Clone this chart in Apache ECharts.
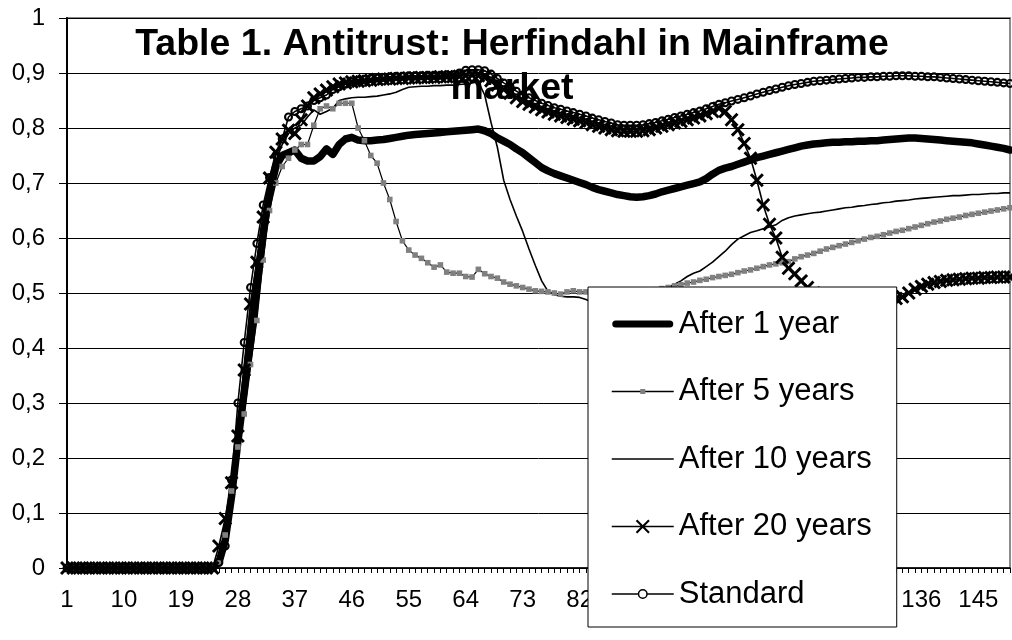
<!DOCTYPE html>
<html>
<head>
<meta charset="utf-8">
<title>Herfindahl in Mainframe market</title>
<script src="https://cdn.jsdelivr.net/npm/echarts@6/dist/echarts.min.js"></script>
<style>
  html, body { margin: 0; padding: 0; background: #ffffff; }
  #chart { width: 1012px; height: 640px; }
</style>
</head>
<body>
<div id="chart"></div>
<script>
// Periods 1..150 on the category axis
const periods = Array.from({ length: 150 }, (_, i) => String(i + 1));

// Herfindahl index per period, one array per scenario
const afterOneYear = [
  0,0,0,0,0,0,0,0,0,0,
  0,0,0,0,0,0,0,0,0,0,
  0,0,0,0,0.01,0.05,0.13,0.23,0.32,0.41,
  0.51,0.61,0.68,0.73,0.75,0.755,0.76,0.745,0.74,0.74,
  0.748,0.762,0.752,0.77,0.78,0.783,0.778,0.777,0.777,0.778,
  0.779,0.781,0.783,0.785,0.787,0.788,0.789,0.79,0.791,0.792,
  0.793,0.794,0.795,0.796,0.797,0.798,0.795,0.79,0.782,0.776,
  0.77,0.762,0.755,0.746,0.737,0.728,0.722,0.717,0.713,0.709,
  0.705,0.701,0.697,0.692,0.688,0.685,0.682,0.679,0.677,0.675,
  0.674,0.675,0.677,0.68,0.684,0.687,0.69,0.693,0.696,0.699,
  0.702,0.708,0.716,0.723,0.727,0.73,0.734,0.738,0.742,0.746,
  0.749,0.752,0.755,0.758,0.761,0.764,0.767,0.769,0.771,0.772,
  0.773,0.774,0.774,0.775,0.775,0.776,0.776,0.777,0.777,0.778,
  0.779,0.78,0.781,0.782,0.782,0.781,0.78,0.779,0.778,0.777,
  0.776,0.775,0.774,0.773,0.771,0.769,0.767,0.765,0.763,0.76
];

const afterFiveYears = [
  0,0,0,0,0,0,0,0,0,0,
  0,0,0,0,0,0,0,0,0,0,
  0,0,0,0,0.01,0.06,0.14,0.22,0.28,0.37,
  0.45,0.56,0.65,0.7,0.73,0.745,0.76,0.77,0.77,0.805,
  0.835,0.84,0.835,0.845,0.845,0.845,0.8,0.777,0.75,0.736,
  0.7,0.67,0.63,0.595,0.578,0.569,0.563,0.555,0.547,0.551,
  0.538,0.536,0.536,0.53,0.529,0.543,0.535,0.53,0.527,0.52,
  0.516,0.513,0.51,0.507,0.504,0.503,0.502,0.5,0.498,0.502,
  0.504,0.502,0.502,0.5,0.499,0.499,0.5,0.5,0.501,0.502,
  0.503,0.504,0.505,0.506,0.508,0.51,0.513,0.515,0.518,0.52,
  0.523,0.525,0.528,0.53,0.532,0.534,0.537,0.54,0.542,0.545,
  0.548,0.551,0.553,0.555,0.557,0.562,0.566,0.569,0.572,0.576,
  0.58,0.583,0.586,0.589,0.592,0.595,0.598,0.601,0.603,0.606,
  0.609,0.612,0.614,0.617,0.62,0.623,0.626,0.629,0.631,0.634,
  0.636,0.638,0.641,0.643,0.645,0.647,0.649,0.651,0.653,0.655
];

const afterTenYears = [
  0,0,0,0,0,0,0,0,0,0,
  0,0,0,0,0,0,0,0,0,0,
  0,0,0,0,0.02,0.07,0.14,0.25,0.37,0.48,
  0.56,0.63,0.69,0.74,0.77,0.79,0.8,0.805,0.82,0.833,
  0.825,0.83,0.836,0.85,0.853,0.855,0.856,0.856,0.857,0.858,
  0.86,0.862,0.865,0.87,0.874,0.875,0.876,0.876,0.877,0.877,
  0.878,0.878,0.879,0.88,0.882,0.884,0.86,0.81,0.765,0.705,
  0.67,0.64,0.612,0.58,0.55,0.522,0.503,0.497,0.494,0.493,
  0.493,0.492,0.488,0.483,0.482,0.484,0.486,0.488,0.49,0.492,
  0.495,0.498,0.501,0.504,0.507,0.51,0.516,0.522,0.53,0.536,
  0.54,0.548,0.556,0.566,0.576,0.588,0.598,0.604,0.61,0.613,
  0.617,0.62,0.624,0.632,0.637,0.64,0.642,0.644,0.646,0.647,
  0.649,0.651,0.653,0.655,0.656,0.658,0.659,0.661,0.662,0.664,
  0.665,0.667,0.668,0.669,0.671,0.672,0.673,0.674,0.675,0.676,
  0.677,0.677,0.678,0.679,0.679,0.68,0.681,0.681,0.682,0.682
];

const afterTwentyYears = [
  0,0,0,0,0,0,0,0,0,0,
  0,0,0,0,0,0,0,0,0,0,
  0,0,0,0,0.04,0.09,0.155,0.24,0.36,0.48,
  0.556,0.638,0.709,0.756,0.78,0.796,0.79,0.815,0.84,0.855,
  0.862,0.869,0.875,0.88,0.882,0.884,0.885,0.886,0.887,0.888,
  0.889,0.889,0.89,0.89,0.891,0.891,0.892,0.892,0.892,0.893,
  0.893,0.893,0.894,0.895,0.896,0.895,0.892,0.886,0.878,0.87,
  0.863,0.855,0.848,0.843,0.838,0.833,0.829,0.825,0.822,0.819,
  0.816,0.813,0.81,0.806,0.803,0.8,0.797,0.795,0.794,0.794,
  0.794,0.795,0.797,0.8,0.803,0.806,0.809,0.812,0.815,0.818,
  0.822,0.826,0.83,0.836,0.83,0.815,0.797,0.772,0.745,0.705,
  0.66,0.625,0.6,0.565,0.545,0.535,0.522,0.51,0.5,0.493,
  0.488,0.485,0.484,0.483,0.483,0.483,0.484,0.484,0.485,0.486,
  0.487,0.49,0.493,0.5,0.507,0.512,0.516,0.519,0.521,0.523,
  0.524,0.525,0.526,0.527,0.527,0.528,0.528,0.529,0.529,0.529
];

const standard = [
  0,0,0,0,0,0,0,0,0,0,
  0,0,0,0,0,0,0,0,0,0,
  0,0,0,0,0.01,0.04,0.16,0.3,0.41,0.51,
  0.59,0.66,0.71,0.75,0.78,0.82,0.83,0.835,0.84,0.85,
  0.855,0.86,0.87,0.875,0.88,0.884,0.886,0.888,0.89,0.891,
  0.892,0.893,0.894,0.894,0.895,0.895,0.895,0.896,0.896,0.896,
  0.897,0.897,0.9,0.905,0.906,0.906,0.904,0.898,0.89,0.882,
  0.875,0.867,0.86,0.855,0.85,0.845,0.841,0.837,0.834,0.831,
  0.828,0.825,0.822,0.818,0.815,0.812,0.809,0.806,0.805,0.805,
  0.805,0.806,0.808,0.81,0.813,0.816,0.819,0.822,0.825,0.828,
  0.831,0.835,0.839,0.843,0.846,0.849,0.852,0.855,0.858,0.862,
  0.865,0.868,0.871,0.874,0.877,0.879,0.881,0.883,0.885,0.886,
  0.887,0.888,0.889,0.89,0.891,0.892,0.892,0.893,0.893,0.894,
  0.894,0.895,0.895,0.895,0.894,0.894,0.893,0.893,0.892,0.891,
  0.89,0.889,0.888,0.887,0.886,0.885,0.884,0.883,0.882,0.881
];

const seriesNames = ['After 1 year', 'After 5 years', 'After 10 years', 'After 20 years', 'Standard'];
const titleText = 'Table 1. Antitrust: Herfindahl in Mainframe\nmarket';

const FONT = '"Liberation Sans", Arial, Helvetica, sans-serif';

// Point markers. The leading moveTo pair pads the square so it stays small
// inside the symbol box (the legend sizes symbols from its item height).
const SQUARE = 'path://M0,0M20,20M6.5,6.5h7v7h-7z';
const CROSS = 'path://M0,1.5L1.5,0L5,3.5L8.5,0L10,1.5L6.5,5L10,8.5L8.5,10L5,6.5L1.5,10L0,8.5L3.5,5Z';
// open ring: outer circle clockwise, inner circle counter-clockwise
const RING = 'path://M0,10A10,10 0 1 1 20,10A10,10 0 1 1 0,10Z' +
  'M4.6,10A5.4,5.4 0 1 0 15.4,10A5.4,5.4 0 1 0 4.6,10Z';

// Legend keys drawn in a 62 x 18 box
const KEY_THICK = 'path://M0,0M62,18M4,5.5h54a3.5,3.5 0 0 1 0,7h-54a3.5,3.5 0 0 1 0,-7z';
const KEY_THIN = 'path://M0,0M62,18M0,8.25h62v1.5h-62z';
const KEY_CROSS = 'path://M0,0M62,18M0,8.25h62v1.5h-62z' +
  'M24,3.5L25.5,2L31,7.5L36.5,2L38,3.5L32.5,9L38,14.5L36.5,16L31,10.5L25.5,16L24,14.5L29.5,9Z';
const KEY_RING = 'path://M0,0M62,18M0,8.25h26.2v1.5h-26.2zM35.8,8.25h26.2v1.5h-26.2z' +
  'M26,9A5,5 0 1 1 36,9A5,5 0 1 1 26,9Z' +
  'M27.5,9A3.5,3.5 0 1 0 34.5,9A3.5,3.5 0 1 0 27.5,9Z';

const chart = echarts.init(document.getElementById('chart'), null, { renderer: 'canvas' });

function yLabel(v) {
  if (v === 0) return '0';
  if (Math.abs(v - 1) < 1e-9) return '1';
  return v.toFixed(1).replace('.', ',');
}

chart.setOption({
  animation: false,
  backgroundColor: '#ffffff',
  textStyle: { fontFamily: FONT },
  title: {
    text: titleText,
    left: 507,
    top: 18,
    textAlign: 'center',
    textStyle: {
      fontFamily: FONT,
      fontSize: 37.5,
      fontWeight: 'bold',
      color: '#000000',
      lineHeight: 44
    }
  },
  legend: {
    orient: 'vertical',
    left: 588,
    top: 287,
    padding: [20, 25, 16, 23],
    itemGap: 33.5,
    itemWidth: 62,
    itemHeight: 18,
    backgroundColor: '#ffffff',
    borderColor: '#000000',
    borderWidth: 1,
    borderRadius: 0,
    data: [
      { name: seriesNames[0], icon: KEY_THICK, itemStyle: { borderWidth: 0 } },
      { name: seriesNames[1], lineStyle: { width: 1.5, color: '#000000' }, itemStyle: { borderWidth: 0 } },
      { name: seriesNames[2], icon: KEY_THIN, itemStyle: { borderWidth: 0 } },
      { name: seriesNames[3], icon: KEY_CROSS, itemStyle: { borderWidth: 0 } },
      { name: seriesNames[4], icon: KEY_RING, itemStyle: { borderWidth: 0, color: '#000000' } }
    ],
    textStyle: { fontFamily: FONT, fontSize: 31, color: '#000000', lineHeight: 34 }
  },
  grid: {
    left: 67,
    right: 2,
    top: 18,
    bottom: 72,
    show: true,
    borderColor: '#8c8c8c',
    borderWidth: 2,
    backgroundColor: 'transparent'
  },
  xAxis: {
    type: 'category',
    data: periods,
    boundaryGap: false,
    axisLine: { show: true, lineStyle: { color: '#000000', width: 1.5 } },
    axisTick: { show: true, interval: 0, length: 5, lineStyle: { color: '#000000', width: 1 } },
    axisLabel: { interval: 8, fontSize: 24, color: '#000000', margin: 20, fontFamily: FONT },
    splitLine: { show: false }
  },
  yAxis: {
    type: 'value',
    min: 0,
    max: 1,
    interval: 0.1,
    axisLine: { show: true, lineStyle: { color: '#000000', width: 2 } },
    axisTick: { show: true, length: 8, lineStyle: { color: '#000000', width: 1 } },
    axisLabel: { fontSize: 24, color: '#000000', margin: 22, formatter: yLabel, fontFamily: FONT },
    splitLine: { show: true, lineStyle: { color: '#000000', width: 1 } }
  },
  series: [
    {
      name: seriesNames[0],
      type: 'line',
      data: afterOneYear,
      symbol: 'none',
      lineStyle: { color: '#000000', width: 7.5, cap: 'round', join: 'round' },
      itemStyle: { color: '#000000' }
    },
    {
      name: seriesNames[1],
      type: 'line',
      data: afterFiveYears,
      symbol: SQUARE,
      symbolSize: 16,
      showAllSymbol: true,
      lineStyle: { color: '#000000', width: 1.2 },
      itemStyle: { color: '#808080', borderWidth: 0 }
    },
    {
      name: seriesNames[2],
      type: 'line',
      data: afterTenYears,
      symbol: 'none',
      lineStyle: { color: '#000000', width: 1.6 },
      itemStyle: { color: '#000000' }
    },
    {
      name: seriesNames[3],
      type: 'line',
      data: afterTwentyYears,
      symbol: CROSS,
      symbolSize: 14,
      showAllSymbol: true,
      lineStyle: { color: '#000000', width: 1.6 },
      itemStyle: { color: '#000000', borderWidth: 0 }
    },
    {
      name: seriesNames[4],
      type: 'line',
      data: standard,
      symbol: RING,
      symbolSize: 9,
      showAllSymbol: true,
      lineStyle: { color: '#000000', width: 1.6 },
      itemStyle: { color: '#000000', borderWidth: 0 }
    }
  ]
});
</script>
</body>
</html>
